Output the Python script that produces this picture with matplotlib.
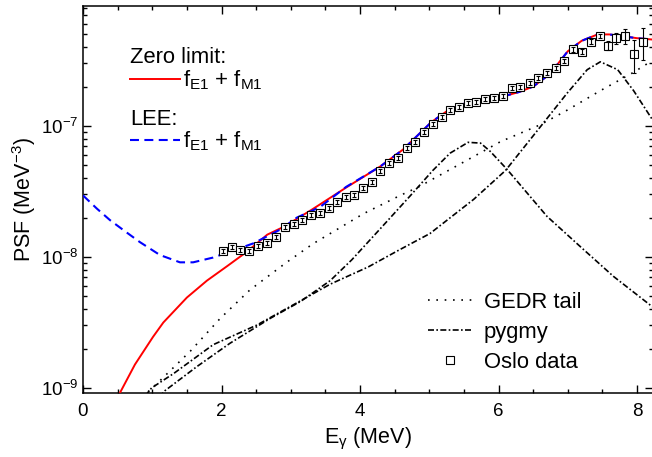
import matplotlib
matplotlib.use('Agg')
import matplotlib.pyplot as plt
from matplotlib.lines import Line2D
from matplotlib.ticker import LogLocator, MultipleLocator, NullFormatter, LogFormatterSciNotation, FixedLocator

plt.rcParams['font.family'] = ['Liberation Sans', 'DejaVu Sans']
plt.rcParams['mathtext.fontset'] = 'custom'
plt.rcParams['mathtext.rm'] = 'Liberation Sans'
plt.rcParams['mathtext.it'] = 'Liberation Sans'
plt.rcParams['mathtext.bf'] = 'Liberation Sans:bold'

# ---------------- data ----------------
zero_x = [0.45, 0.53, 0.75, 1.01, 1.16, 1.50, 1.79, 2.08, 2.37, 2.66, 2.90, 3.30, 3.80,
          4.29, 4.62, 5.03, 5.30, 5.55, 5.80, 6.03, 6.30, 6.50, 6.70, 6.85, 7.00, 7.20,
          7.43, 7.60, 7.72, 8.00, 8.22]
zero_y = [7.8e-10, 9.1e-10, 1.51e-9, 2.45e-9, 3.16e-9, 4.9e-9, 6.6e-9, 8.5e-9, 1.10e-8,
          1.48e-8, 1.70e-8, 2.29e-8, 3.39e-8, 4.9e-8, 6.6e-8, 1.07e-7, 1.35e-7, 1.51e-7,
          1.58e-7, 1.66e-7, 1.82e-7, 2.0e-7, 2.40e-7, 2.95e-7, 3.72e-7, 4.47e-7, 5.0e-7,
          5.0e-7, 4.9e-7, 4.68e-7, 4.57e-7]

lee_x = [0.00, 0.20, 0.39, 0.60, 0.82, 1.11, 1.40, 1.59, 1.88, 2.17, 2.46, 2.85, 3.09,
         3.42, 3.80, 4.29, 4.62, 5.03, 5.30, 5.55, 5.80, 6.03, 6.30, 6.50, 6.70, 6.85,
         7.00, 7.20, 7.43, 7.60, 7.72, 8.00, 8.22]
lee_y = [2.95e-8, 2.34e-8, 1.91e-8, 1.58e-8, 1.30e-8, 1.035e-8, 9.1e-9, 9.1e-9, 9.9e-9,
         1.12e-8, 1.27e-8, 1.62e-8, 2.0e-8, 2.40e-8, 3.43e-8, 4.9e-8, 6.6e-8, 1.07e-7,
         1.35e-7, 1.51e-7, 1.58e-7, 1.66e-7, 1.82e-7, 2.0e-7, 2.40e-7, 2.95e-7, 3.72e-7,
         4.47e-7, 5.0e-7, 5.0e-7, 4.9e-7, 4.68e-7, 4.57e-7]

gedr_x = [0.85, 1.02, 1.55, 1.98, 2.41, 2.94, 3.32, 4.05, 4.58, 4.83, 5.55, 6.03, 6.60,
          6.99, 7.47, 7.95, 8.22]
gedr_y = [8.5e-10, 1.02e-9, 1.91e-9, 3.39e-9, 5.6e-9, 9.1e-9, 1.26e-8, 2.14e-8, 2.95e-8,
          3.39e-8, 5.5e-8, 7.6e-8, 1.02e-7, 1.32e-7, 1.86e-7, 2.57e-7, 3.16e-7]

pyg1_x = [1.10, 1.18, 1.64, 2.12, 2.70, 3.14, 3.57, 3.88, 4.30, 4.73, 5.05, 5.30, 5.56,
          5.74, 5.88, 6.12, 6.70, 7.18, 7.66, 8.22]
pyg1_y = [8.5e-10, 9.5e-10, 1.45e-9, 2.19e-9, 3.39e-9, 4.57e-9, 6.6e-9, 9.5e-9, 1.66e-8,
          2.95e-8, 4.57e-8, 6.2e-8, 7.5e-8, 7.4e-8, 6.4e-8, 4.68e-8, 2.04e-8, 1.20e-8,
          7.1e-9, 4.17e-9]

pyg2_x = [0.90, 0.99, 1.31, 1.88, 2.51, 3.09, 3.57, 4.12, 4.55, 5.01, 5.64, 6.10, 6.60,
          6.99, 7.28, 7.47, 7.72, 7.95, 8.22]
pyg2_y = [8.7e-10, 1.0e-9, 1.29e-9, 2.14e-9, 3.02e-9, 4.47e-9, 6.2e-9, 8.4e-9, 1.12e-8,
          1.51e-8, 2.75e-8, 4.57e-8, 9.8e-8, 1.78e-7, 2.69e-7, 3.09e-7, 2.69e-7, 1.86e-7,
          1.12e-7]

oslo_x = [2.02, 2.15, 2.27, 2.40, 2.53, 2.66, 2.78, 2.91, 3.04, 3.16, 3.29, 3.42, 3.55,
          3.67, 3.80, 3.92, 4.05, 4.17, 4.29, 4.42, 4.55, 4.68, 4.80, 4.93, 5.05, 5.18,
          5.30, 5.43, 5.56, 5.68, 5.81, 5.94, 6.06, 6.19, 6.31, 6.45, 6.57, 6.70, 6.83,
          6.95, 7.08, 7.21, 7.33, 7.46, 7.58, 7.70, 7.83, 7.96, 8.09]
oslo_y = [1.117e-8, 1.186e-8, 1.13e-8, 1.117e-8, 1.213e-8, 1.27e-8, 1.429e-8, 1.702e-8,
          1.786e-8, 1.914e-8, 2.094e-8, 2.178e-8, 2.382e-8, 2.642e-8, 2.851e-8, 2.972e-8,
          3.342e-8, 3.758e-8, 4.529e-8, 5.188e-8, 5.662e-8, 6.839e-8, 7.586e-8, 8.954e-8,
          1.033e-7, 1.164e-7, 1.324e-7, 1.39e-7, 1.489e-7, 1.535e-7, 1.600e-7, 1.644e-7,
          1.702e-7, 1.941e-7, 1.995e-7, 2.118e-7, 2.339e-7, 2.553e-7, 2.793e-7, 3.155e-7,
          3.855e-7, 3.698e-7, 4.406e-7, 4.864e-7, 4.102e-7, 4.677e-7, 4.864e-7, 3.524e-7,
          4.406e-7]
oslo_rel_err = [0.035, 0.035, 0.035, 0.035, 0.035, 0.035, 0.035, 0.035, 0.035, 0.035,
                0.035, 0.035, 0.035, 0.035, 0.035, 0.035, 0.035, 0.035, 0.035, 0.035,
                0.035, 0.035, 0.035, 0.035, 0.035, 0.035, 0.035, 0.035, 0.035, 0.035,
                0.035, 0.035, 0.035, 0.035, 0.035, 0.035, 0.035, 0.035, 0.035, 0.035,
                0.04, 0.04, 0.04, 0.04, 0.08, 0.10, 0.125, 0.28, 0.27]

x_ticks = [0, 2, 4, 6, 8]
y_ticks = [1e-9, 1e-8, 1e-7]

# ---------------- figure ----------------
W, H = 652, 457
fig = plt.figure(figsize=(W / 100, H / 100), dpi=100)
ax = fig.add_axes([83 / W, 64 / H, 570 / W, 387 / H])
ax.set_yscale('log')

ax.plot(zero_x, zero_y, color='#ff0000', lw=1.4, zorder=3)
ax.plot(lee_x, lee_y, color='#0000ff', lw=1.5, ls=(0, (4.3, 2.6)), zorder=3.5)
ax.plot(gedr_x, gedr_y, color='black', lw=1.2, ls=(0, (1, 4)), zorder=2)
ax.plot(pyg1_x, pyg1_y, color='black', lw=1.2, ls=(0, (3.6, 1.4, 1, 1.4)), zorder=2)
ax.plot(pyg2_x, pyg2_y, color='black', lw=1.2, ls=(0, (3.6, 1.4, 1, 1.4)), zorder=2)

oslo_err = [v * e for v, e in zip(oslo_y, oslo_rel_err)]
ax.plot(oslo_x, oslo_y, ls='none', marker='s', ms=5.4, mfc='white', mec='black',
        mew=0.8, zorder=5)
ax.errorbar(oslo_x, oslo_y, yerr=oslo_err, fmt='none', ecolor='black', elinewidth=0.8,
            capsize=1.6, capthick=0.8, zorder=6)

ax.set_xlim(0, 8.23)
ax.set_ylim(9.15e-10, 8.24e-7)

ax.xaxis.set_major_locator(FixedLocator(x_ticks))
ax.xaxis.set_minor_locator(MultipleLocator(0.5))
ax.yaxis.set_major_locator(FixedLocator(y_ticks))
ax.yaxis.set_minor_locator(LogLocator(base=10, subs=range(2, 10), numticks=20))
ax.xaxis.set_minor_formatter(NullFormatter())
ax.yaxis.set_minor_formatter(NullFormatter())
ax.yaxis.set_major_formatter(LogFormatterSciNotation())

ax.tick_params(which='both', direction='in', top=True, right=True, labelsize=13.5,
               width=1.0)
ax.tick_params(which='major', length=5.5)
ax.tick_params(which='minor', length=3)
ax.tick_params(axis='x', pad=7.5)
for s in ax.spines.values():
    s.set_linewidth(1.1)

ax.set_xlabel(r'$\mathregular{E_{γ}}$ (MeV)', fontsize=15.5, labelpad=4)
ax.set_ylabel(r'PSF (MeV$^{\mathregular{-3}}$)', fontsize=15.5, labelpad=2)

# ---- top-left legend ----
fs_leg = 15.8
ax.text(0.0826, 0.853, 'Zero limit:', transform=ax.transAxes, fontsize=fs_leg,
        ha='left', va='baseline')
ax.text(0.0826, 0.6925, 'LEE:', transform=ax.transAxes, fontsize=fs_leg,
        ha='left', va='baseline')
lab = r'$\mathregular{f_{E1}}$ + $\mathregular{f_{M1}}$'
h_red = Line2D([], [], color='#ff0000', lw=1.4)
h_blue = Line2D([], [], color='#0000ff', lw=1.5, ls=(0, (4.3, 2.6)))
leg1 = ax.legend([h_red], [lab], loc='center left', bbox_to_anchor=(0.0826, 0.808),
                 borderpad=0, borderaxespad=0, handlelength=2.27, handletextpad=0.15,
                 frameon=False, fontsize=fs_leg)
ax.add_artist(leg1)
leg2 = ax.legend([h_blue], [lab], loc='center left', bbox_to_anchor=(0.0826, 0.65),
                 borderpad=0, borderaxespad=0, handlelength=2.27, handletextpad=0.15,
                 frameon=False, fontsize=fs_leg)
ax.add_artist(leg2)

# ---- bottom-right legend ----
h_dot = Line2D([], [], color='black', lw=1.2, ls=(0, (1, 4)))
h_dd = Line2D([], [], color='black', lw=1.2, ls=(0, (3.6, 1.4, 1, 1.4)))
h_sq = Line2D([], [], ls='none', marker='s', ms=5.4, mfc='white', mec='black', mew=0.8)
ax.legend([h_dot, h_dd, h_sq], ['GEDR tail', 'pygmy', 'Oslo data'], loc='upper left',
          bbox_to_anchor=(0.6046, 0.262), borderpad=0, borderaxespad=0,
          handlelength=2.05, handletextpad=0.5, labelspacing=0.42, frameon=False,
          fontsize=fs_leg)

fig.savefig('out.png', dpi=100)
